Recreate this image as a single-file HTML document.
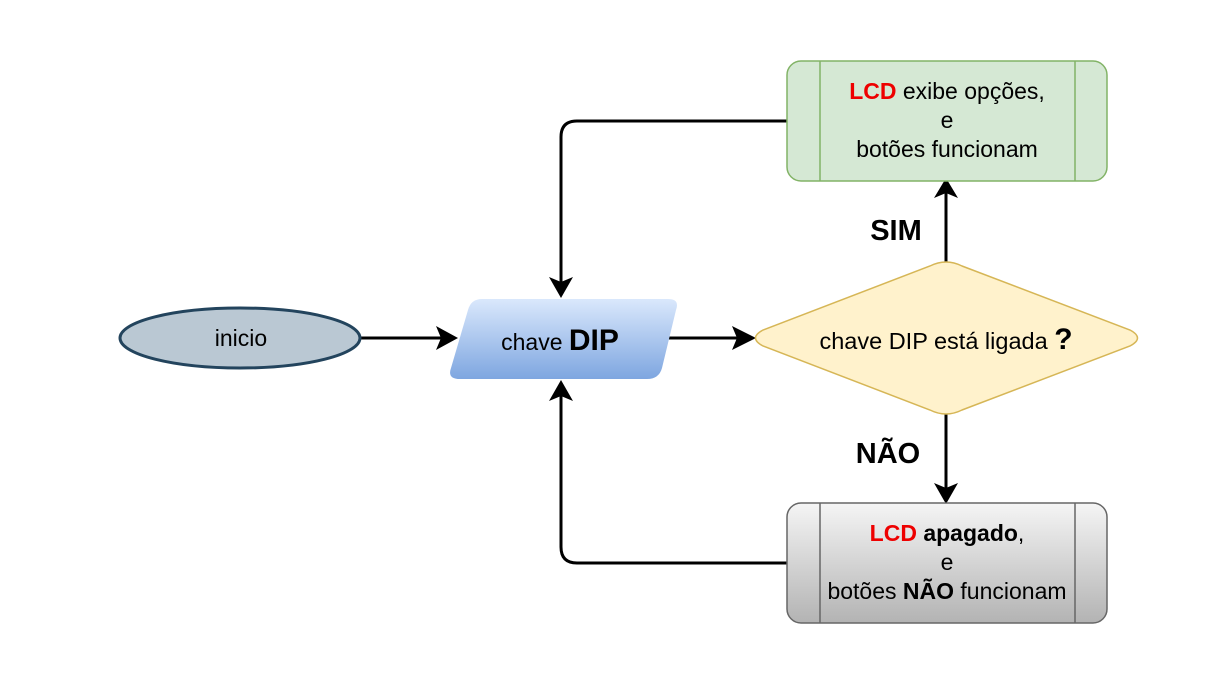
<!DOCTYPE html>
<html><head><meta charset="utf-8"><style>
html,body{margin:0;padding:0;background:#fff;}
svg text{font-family:"Liberation Sans",sans-serif;}
</style></head><body>
<svg width="1228" height="684" viewBox="0 0 1228 684" xmlns="http://www.w3.org/2000/svg">
<defs>
<linearGradient id="gb" x1="0" y1="0" x2="0" y2="1"><stop offset="0" stop-color="#dae8fc"/><stop offset="1" stop-color="#7ea6e0"/></linearGradient>
<linearGradient id="gg" x1="0" y1="0" x2="0" y2="1"><stop offset="0" stop-color="#f5f5f5"/><stop offset="1" stop-color="#b3b3b3"/></linearGradient>
</defs>
<g stroke="#000" stroke-width="3" fill="none">
<path d="M361,338 H452"/><path d="M436,326 L458,338 L436,350 L441,338 Z" fill="#000" stroke="none"/>
<path d="M660,338 H748"/><path d="M732,326 L756,338 L732,350 L737,338 Z" fill="#000" stroke="none"/>
<path d="M946,262 V188"/><path d="M934,198 L946,178 L958,198 L946,193 Z" fill="#000" stroke="none"/>
<path d="M946,414 V496"/><path d="M934,483 L946,504 L958,483 L946,488 Z" fill="#000" stroke="none"/>
<path d="M787,121 H577 Q561,121 561,137 V290"/><path d="M549,277 L561,298 L573,277 L561,282 Z" fill="#000" stroke="none"/>
<path d="M787,563 H577 Q561,563 561,547 V388"/><path d="M549,401 L561,380 L573,401 L561,396 Z" fill="#000" stroke="none"/>
</g>
<ellipse cx="240" cy="338" rx="120" ry="30" fill="#bac8d3" stroke="#23445d" stroke-width="3"/>
<text x="241" y="346" font-size="23" text-anchor="middle" fill="#000">inicio</text>
<path d="M482,299 H668 Q680,299 676,310 L662,368 Q659,379 647,379 H460 Q447,379 451,368 L468,310 Q471,299 482,299 Z" fill="url(#gb)"/>
<text x="560" y="350" text-anchor="middle" fill="#000"><tspan font-size="23">chave </tspan><tspan font-size="30" font-weight="bold">DIP</tspan></text>
<path d="M930,266 Q946,258 962,266 L1130,330 Q1145,338 1130,346 L962,410 Q946,418 930,410 L763,346 Q748,338 763,330 Z" fill="#fff2cc" stroke="#d6b656" stroke-width="1.5"/>
<text x="946" y="349" text-anchor="middle" fill="#000"><tspan font-size="23.5">chave DIP está ligada </tspan><tspan font-size="30" font-weight="bold">?</tspan></text>
<rect x="787" y="61" width="320" height="120" rx="14" fill="#d5e8d4" stroke="#82b366" stroke-width="1.5"/>
<path d="M820,61 V181 M1075,61 V181" stroke="#82b366" stroke-width="1.5"/>
<text x="947" y="99" text-anchor="middle" font-size="23" fill="#000"><tspan fill="#e00" font-weight="bold">LCD</tspan> exibe opções,</text>
<text x="947" y="128" text-anchor="middle" font-size="23" fill="#000">e</text>
<text x="947" y="157" text-anchor="middle" font-size="23" fill="#000">botões funcionam</text>
<rect x="787" y="503" width="320" height="120" rx="14" fill="url(#gg)" stroke="#666" stroke-width="1.5"/>
<path d="M820,503 V623 M1075,503 V623" stroke="#666" stroke-width="1.5"/>
<text x="947" y="541" text-anchor="middle" font-size="23" fill="#000"><tspan fill="#e00" font-weight="bold">LCD</tspan> <tspan font-weight="bold">apagado</tspan>,</text>
<text x="947" y="570" text-anchor="middle" font-size="23" fill="#000">e</text>
<text x="947" y="599" text-anchor="middle" font-size="23" fill="#000">botões <tspan font-weight="bold">NÃO</tspan> funcionam</text>
<text x="896" y="240" text-anchor="middle" font-size="29" font-weight="bold" fill="#000">SIM</text>
<text x="888" y="463" text-anchor="middle" font-size="29" font-weight="bold" fill="#000">NÃO</text>
</svg>
</body></html>
